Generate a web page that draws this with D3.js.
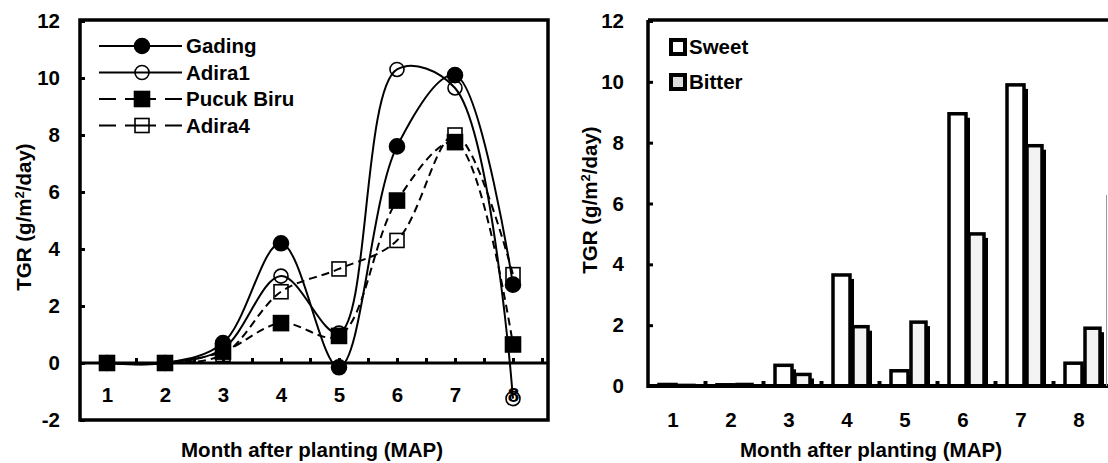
<!DOCTYPE html>
<html>
<head>
<meta charset="utf-8">
<script src="https://cdn.jsdelivr.net/npm/d3@7"></script>
<style>
  body { margin: 0; background: #fff; }
  text { font-family: "Liberation Sans", Arial, sans-serif; font-weight: bold; fill: #000; }
</style>
</head>
<body>
<script>
// data
let months = [1, 2, 3, 4, 5, 6, 7, 8]
let gading = [0, 0, 0.7, 4.2, -0.15, 7.6, 10.1, 2.75]
let adira1 = [0, 0, 0.5, 3.05, 1.05, 10.3, 9.65, -1.25]
let pucukBiru = [0, 0, 0.4, 1.4, 0.95, 5.7, 7.75, 0.65]
let adira4 = [0, 0, 0.3, 2.5, 3.3, 4.3, 8.0, 3.1]
let sweet = [0.05, 0.04, 0.68, 3.65, 0.5, 8.95, 9.9, 0.75]
let bitter = [0.02, 0.05, 0.38, 1.95, 2.1, 5.0, 7.9, 1.9]
let yTicksL = [-2, 0, 2, 4, 6, 8, 10, 12]
let yTicksR = [0, 2, 4, 6, 8, 10, 12]

let fs = 20.5

let svg = d3.select("body")
  .append("svg")
  .attr("width", 1108)
  .attr("height", 463)

// ---------- left panel: line chart ----------
let xL = d3.scaleLinear().domain([1, 8]).range([107, 513])
let yL = d3.scaleLinear().domain([-2, 12]).range([420, 21])

let left = svg.append("g")

// y axis (ticks point inward)
left.append("g")
  .attr("transform", "translate(80,0)")
  .call(d3.axisLeft(yL).tickValues(yTicksL).tickSize(-5).tickPadding(20).tickFormat(d => String(d)))
  .call(g => g.select(".domain").remove())
  .call(g => g.selectAll(".tick line").attr("stroke-width", 3))
  .call(g => g.selectAll("text").style("font-size", fs + "px"))

// x axis sits on zero line
left.append("g")
  .attr("transform", "translate(0," + yL(0) + ")")
  .call(d3.axisBottom(xL)
    .tickValues(d3.range(1, 9, 0.5))
    .tickSize(-5)
    .tickPadding(24)
    .tickFormat(d => Number.isInteger(d) ? d : ""))
  .call(g => g.select(".domain").remove())
  .call(g => g.selectAll(".tick line").attr("stroke-width", 3))
  .call(g => g.selectAll("text").style("font-size", fs + "px"))

left.append("line")
  .attr("x1", 80).attr("x2", 548)
  .attr("y1", yL(0)).attr("y2", yL(0))
  .attr("stroke", "#000").attr("stroke-width", 3)

left.append("rect")
  .attr("x", 80).attr("y", 20)
  .attr("width", 468).attr("height", 400)
  .attr("fill", "none").attr("stroke", "#000").attr("stroke-width", 3.5)

let line = d3.line()
  .x((d, i) => xL(months[i]))
  .y(d => yL(d))
  .curve(d3.curveCatmullRom.alpha(0.5))

let series = [
  {name: "Gading", values: gading, dash: null, shape: "circle", filled: true},
  {name: "Adira1", values: adira1, dash: null, shape: "circle", filled: false},
  {name: "Pucuk Biru", values: pucukBiru, dash: "8,5", shape: "square", filled: true},
  {name: "Adira4", values: adira4, dash: "8,5", shape: "square", filled: false}
]

function marker(g, s, cx, cy) {
  if (s.shape == "circle") {
    g.append("circle")
      .attr("cx", cx).attr("cy", cy)
      .attr("r", s.filled ? 7.5 : 7)
      .attr("fill", s.filled ? "#000" : "none")
      .attr("stroke", "#000").attr("stroke-width", 1.6)
  } else {
    let h = s.filled ? 7.5 : 7
    g.append("rect")
      .attr("x", cx - h).attr("y", cy - h)
      .attr("width", 2 * h).attr("height", 2 * h)
      .attr("fill", s.filled ? "#000" : "none")
      .attr("stroke", "#000").attr("stroke-width", 1.6)
  }
}

series.forEach(s => {
  left.append("path")
    .attr("d", line(s.values))
    .attr("fill", "none")
    .attr("stroke", "#000")
    .attr("stroke-width", 2)
    .attr("stroke-dasharray", s.dash)
})
series.forEach(s => {
  s.values.forEach((v, i) => marker(left, s, xL(months[i]), yL(v)))
})

// legend
let legL = left.append("g")
series.forEach((s, i) => {
  let y = 46 + i * 26.5
  legL.append("line")
    .attr("x1", 99).attr("x2", 182)
    .attr("y1", y).attr("y2", y)
    .attr("stroke", "#000").attr("stroke-width", 2)
    .attr("stroke-dasharray", s.dash ? "17,9,31,9,17" : null)
  marker(legL, s, 142, y)
  legL.append("text")
    .attr("x", 186).attr("y", y)
    .attr("dy", "0.36em")
    .style("font-size", fs + "px")
    .text(s.name)
})

// axis titles
function yTitle(g, x, y) {
  let t = g.append("text")
    .attr("transform", "translate(" + x + "," + y + ") rotate(-90)")
    .attr("text-anchor", "middle")
    .style("font-size", fs + "px")
  t.append("tspan").text("TGR (g/m")
  t.append("tspan").attr("baseline-shift", "super").style("font-size", "13px").text("2")
  t.append("tspan").text("/day)")
}
yTitle(left, 31, 217)

left.append("text")
  .attr("x", 312).attr("y", 457)
  .attr("text-anchor", "middle")
  .style("font-size", fs + "px")
  .text("Month after planting (MAP)")

// ---------- right panel: bar chart ----------
let xR = d3.scaleLinear().domain([0.5, 8.5]).range([647, 1111])
let yR = d3.scaleLinear().domain([0, 12]).range([386, 21])

let right = svg.append("g")

right.append("g")
  .attr("transform", "translate(648,0)")
  .call(d3.axisLeft(yR).tickValues(yTicksR).tickSize(-5).tickPadding(24))
  .call(g => g.select(".domain").remove())
  .call(g => g.selectAll(".tick line").attr("stroke-width", 3))
  .call(g => g.selectAll("text").style("font-size", fs + "px"))

right.append("g")
  .attr("transform", "translate(0," + yR(0) + ")")
  .call(d3.axisBottom(xR)
    .tickValues(months.slice(0, 7).map(m => m + 0.5))
    .tickSize(-5)
    .tickFormat(""))
  .call(g => g.select(".domain").remove())
  .call(g => g.selectAll(".tick line").attr("stroke-width", 4))

right.selectAll(".mlab")
  .data(months)
  .enter()
  .append("text")
  .attr("class", "mlab")
  .attr("x", d => xR(d) - 3)
  .attr("y", yR(0) + 34)
  .attr("dy", "0.36em")
  .attr("text-anchor", "middle")
  .style("font-size", fs + "px")
  .text(d => d)

// bars: sweet left, bitter right, each with a drop shadow
let bars = [
  {values: sweet, dx: -17, w: 17, fill: "#fff"},
  {values: bitter, dx: 3, w: 15, fill: "#f3f3f3"}
]
bars.forEach(b => {
  let g = right.append("g")
  b.values.forEach((v, i) => {
    let x = xR(months[i]) + b.dx
    let y = yR(v)
    let h = yR(0) - y
    g.append("rect")
      .attr("x", x + 4).attr("y", y + 4)
      .attr("width", b.w).attr("height", Math.max(h - 4, 0))
      .attr("fill", "#000")
    g.append("rect")
      .attr("x", x).attr("y", y)
      .attr("width", b.w).attr("height", h)
      .attr("fill", b.fill)
      .attr("stroke", "#000").attr("stroke-width", 3.5)
  })
})

// frame
right.append("line")
  .attr("x1", 648).attr("x2", 648).attr("y1", 20).attr("y2", 388)
  .attr("stroke", "#000").attr("stroke-width", 3.5)
right.append("line")
  .attr("x1", 648).attr("x2", 1108).attr("y1", 20).attr("y2", 20)
  .attr("stroke", "#000").attr("stroke-width", 3.5)
right.append("line")
  .attr("x1", 648).attr("x2", 1108).attr("y1", yR(0)).attr("y2", yR(0))
  .attr("stroke", "#000").attr("stroke-width", 4)
right.append("line")
  .attr("x1", 1106.5).attr("x2", 1106.5).attr("y1", 195).attr("y2", 386)
  .attr("stroke", "#999").attr("stroke-width", 1)

// legend
let legR = right.append("g")
;[{name: "Sweet", fill: "#fff"}, {name: "Bitter", fill: "#ddd"}].forEach((d, i) => {
  let y = 47 + i * 35
  legR.append("rect")
    .attr("x", 671).attr("y", y - 7)
    .attr("width", 14).attr("height", 14)
    .attr("fill", d.fill)
    .attr("stroke", "#000").attr("stroke-width", 4)
  legR.append("text")
    .attr("x", 689).attr("y", y)
    .attr("dy", "0.36em")
    .style("font-size", fs + "px")
    .text(d.name)
})

yTitle(right, 597, 200)

right.append("text")
  .attr("x", 871).attr("y", 457)
  .attr("text-anchor", "middle")
  .style("font-size", fs + "px")
  .text("Month after planting (MAP)")
</script>
</body>
</html>
